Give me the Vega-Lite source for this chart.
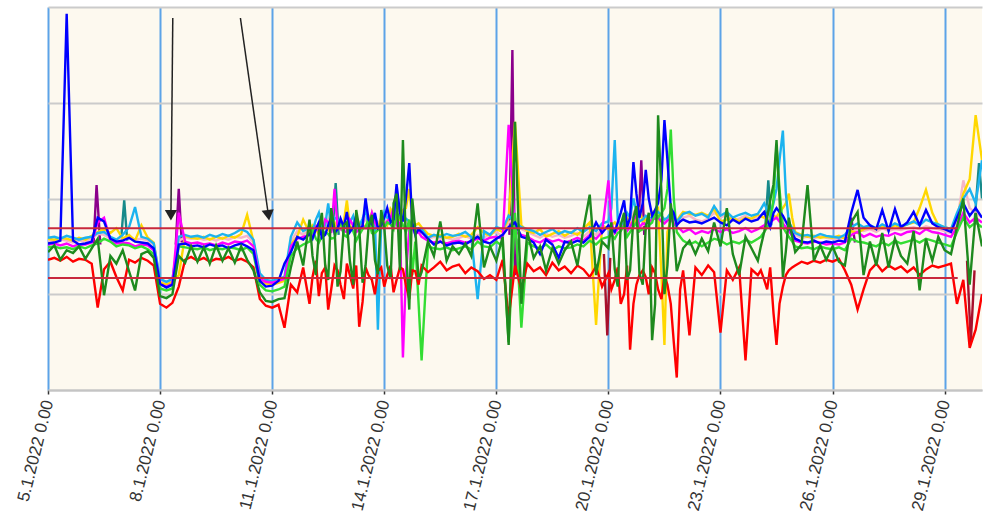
{
  "$schema": "https://vega.github.io/schema/vega-lite/v6.json",
  "autosize": "none",
  "width": 934,
  "height": 383,
  "padding": {"left": 48, "top": 7, "right": 3, "bottom": 128},
  "background": "white",
  "config": {"view": {"fill": "#fdf9ef", "stroke": null}, "font": "Liberation Sans"},
  "layer": [
    {
      "data": {"values": [
        {"d":6.22,"s":"U","g":1,"v":15.3},{"d":6.3,"s":"U","g":1,"v":21.4},{"d":6.4,"s":"U","g":1,"v":15.2},
        {"d":8.42,"s":"U","g":2,"v":15.2},{"d":8.5,"s":"U","g":2,"v":21.0},{"d":8.58,"s":"U","g":2,"v":15.4},
        {"d":17.35,"s":"U","g":3,"v":16.2},{"d":17.43,"s":"U","g":3,"v":35.5},{"d":17.5,"s":"U","g":3,"v":12.0},{"d":17.6,"s":"U","g":3,"v":15.8},
        {"d":20.8,"s":"U","g":4,"v":16.4},{"d":20.88,"s":"U","g":4,"v":24.0},{"d":20.96,"s":"U","g":4,"v":16.2},
        {"d":26.4,"s":"U","g":5,"v":15.5},{"d":26.5,"s":"U","g":5,"v":18.0},{"d":26.6,"s":"U","g":5,"v":15.4},
        {"d":6.95,"s":"T","g":6,"v":15.4},{"d":7.04,"s":"T","g":6,"v":19.8},{"d":7.12,"s":"T","g":6,"v":15.6},
        {"d":12.62,"s":"T","g":7,"v":16.6},{"d":12.7,"s":"T","g":7,"v":21.6},{"d":12.78,"s":"T","g":7,"v":16.2},
        {"d":24.2,"s":"T","g":8,"v":17.0},{"d":24.28,"s":"T","g":8,"v":21.9},{"d":24.36,"s":"T","g":8,"v":17.2},
        {"d":29.8,"s":"T","g":9,"v":17.5},{"d":29.92,"s":"T","g":9,"v":23.7},{"d":30,"s":"T","g":9,"v":20.0},
        {"d":19.88,"s":"K","g":10,"v":14.2},{"d":19.97,"s":"K","g":10,"v":5.7},{"d":20.05,"s":"K","g":10,"v":13.8},
        {"d":29.6,"s":"K","g":11,"v":13.5},{"d":29.7,"s":"K","g":11,"v":5.0},{"d":29.8,"s":"K","g":11,"v":12.5}
      ]},
      "mark": {"type": "line", "strokeWidth": 2.4, "clip": true},
      "encoding": {
        "x": {"field": "d", "type": "quantitative"},
        "y": {"field": "v", "type": "quantitative"},
        "color": {"field": "s", "type": "nominal"},
        "detail": {"field": "g", "type": "nominal"}
      }
    },
    {
      "data": {"values": [
        {"d":5.00,"P":15.6,"G":15.8,"C":15.9,"M":15.2,"L":14.9,"B":15.3,"R":13.6,"D":14.4},
        {"d":5.17,"P":15.5,"G":15.7,"C":16.0,"M":15.3,"L":15.0,"B":15.4,"R":13.8,"D":15.1},
        {"d":5.33,"P":15.7,"G":15.9,"C":15.8,"M":15.1,"L":14.8,"B":15.6,"R":13.5,"D":13.6},
        {"d":5.50,"P":15.6,"G":15.8,"C":16.1,"M":15.3,"L":14.9,"B":39.3,"R":13.9,"D":14.6},
        {"d":5.67,"P":15.4,"G":15.6,"C":15.9,"M":15.0,"L":14.7,"B":15.6,"R":13.4,"D":14.3},
        {"d":5.83,"P":15.6,"G":15.9,"C":15.7,"M":15.2,"L":15.0,"B":15.2,"R":13.7,"D":15.0},
        {"d":6.00,"P":15.5,"G":15.7,"C":15.9,"M":15.2,"L":14.8,"B":15.3,"R":13.6,"D":13.7},
        {"d":6.17,"P":15.8,"G":16.1,"C":16.0,"M":15.4,"L":15.1,"B":15.5,"R":13.2,"D":14.8},
        {"d":6.33,"P":16.3,"G":16.5,"C":16.4,"M":17.5,"L":15.3,"B":18.0,"R":8.6,"D":15.8},
        {"d":6.50,"P":16.2,"G":16.8,"C":16.5,"M":18.0,"L":15.8,"B":17.6,"R":12.6,"D":9.9},
        {"d":6.67,"P":15.8,"G":16.4,"C":16.0,"M":15.6,"L":15.5,"B":15.8,"R":13.4,"D":14.0},
        {"d":6.83,"P":15.6,"G":16.9,"C":15.7,"M":15.3,"L":15.0,"B":15.5,"R":11.8,"D":13.2},
        {"d":7.00,"P":15.9,"G":15.8,"C":16.2,"M":15.4,"L":15.2,"B":15.6,"R":10.4,"D":14.6},
        {"d":7.17,"P":16.0,"G":16.2,"C":17.0,"M":15.3,"L":15.1,"B":15.9,"R":13.6,"D":12.4},
        {"d":7.33,"P":15.7,"G":15.6,"C":19.1,"M":15.0,"L":14.8,"B":15.5,"R":13.3,"D":10.4},
        {"d":7.50,"P":15.8,"G":17.2,"C":16.0,"M":15.2,"L":15.0,"B":15.4,"R":13.8,"D":14.2},
        {"d":7.67,"P":15.6,"G":15.9,"C":15.8,"M":15.1,"L":14.7,"B":15.3,"R":13.5,"D":14.5},
        {"d":7.83,"P":15.2,"G":15.4,"C":15.3,"M":14.6,"L":14.2,"B":14.8,"R":13.0,"D":13.8},
        {"d":8.00,"P":11.4,"G":11.2,"C":11.6,"M":11.0,"L":10.6,"B":11.1,"R":9.0,"D":9.8},
        {"d":8.17,"P":11.2,"G":11.0,"C":11.3,"M":10.8,"L":10.4,"B":10.7,"R":8.6,"D":9.6},
        {"d":8.33,"P":11.5,"G":11.3,"C":11.6,"M":11.1,"L":10.6,"B":11.0,"R":9.1,"D":10.0},
        {"d":8.50,"P":15.6,"G":12.0,"C":16.0,"M":18.5,"L":15.0,"B":15.2,"R":10.8,"D":14.0},
        {"d":8.67,"P":15.9,"G":16.1,"C":16.2,"M":15.5,"L":14.9,"B":15.3,"R":13.6,"D":13.3},
        {"d":8.83,"P":15.8,"G":15.9,"C":16.0,"M":15.3,"L":14.8,"B":15.0,"R":13.9,"D":15.0},
        {"d":9.00,"P":15.9,"G":15.8,"C":16.1,"M":15.4,"L":14.7,"B":15.1,"R":13.5,"D":13.4},
        {"d":9.17,"P":15.7,"G":16.0,"C":15.9,"M":15.2,"L":14.9,"B":14.9,"R":13.8,"D":14.9},
        {"d":9.33,"P":15.8,"G":15.7,"C":16.2,"M":15.3,"L":14.6,"B":15.2,"R":13.4,"D":13.2},
        {"d":9.50,"P":15.6,"G":16.0,"C":16.0,"M":15.1,"L":14.8,"B":15.0,"R":13.7,"D":15.1},
        {"d":9.67,"P":15.9,"G":15.8,"C":16.3,"M":15.4,"L":14.7,"B":15.1,"R":13.6,"D":13.5},
        {"d":9.83,"P":15.7,"G":16.1,"C":16.1,"M":15.2,"L":14.9,"B":14.8,"R":13.9,"D":14.8},
        {"d":10.00,"P":16.0,"G":15.9,"C":16.4,"M":15.5,"L":14.8,"B":15.1,"R":13.5,"D":13.3},
        {"d":10.17,"P":15.9,"G":16.3,"C":16.8,"M":15.4,"L":14.6,"B":15.3,"R":13.7,"D":15.0},
        {"d":10.33,"P":16.1,"G":18.3,"C":16.5,"M":15.6,"L":14.9,"B":15.0,"R":13.4,"D":13.6},
        {"d":10.50,"P":15.4,"G":15.5,"C":15.7,"M":15.0,"L":14.2,"B":14.6,"R":12.8,"D":12.5},
        {"d":10.67,"P":12.0,"G":11.8,"C":12.2,"M":11.6,"L":11.0,"B":11.4,"R":9.5,"D":10.2},
        {"d":10.83,"P":11.4,"G":11.1,"C":11.5,"M":11.3,"L":10.4,"B":10.8,"R":8.8,"D":9.3},
        {"d":11.00,"P":11.3,"G":11.0,"C":11.4,"M":11.2,"L":10.3,"B":10.9,"R":8.6,"D":9.2},
        {"d":11.17,"P":11.5,"G":11.2,"C":11.6,"M":11.4,"L":10.5,"B":11.4,"R":8.9,"D":9.5},
        {"d":11.33,"P":11.7,"G":11.4,"C":11.8,"M":11.6,"L":10.8,"B":13.2,"R":6.5,"D":9.6},
        {"d":11.50,"P":15.5,"G":15.2,"C":16.0,"M":15.0,"L":14.0,"B":14.4,"R":11.0,"D":12.8},
        {"d":11.67,"P":16.6,"G":16.0,"C":17.5,"M":15.8,"L":14.8,"B":16.0,"R":10.2,"D":15.5},
        {"d":11.83,"P":16.2,"G":17.8,"C":16.6,"M":16.0,"L":15.2,"B":15.7,"R":12.8,"D":13.0},
        {"d":12.00,"P":16.8,"G":16.4,"C":17.0,"M":16.2,"L":15.5,"B":16.3,"R":9.0,"D":17.8},
        {"d":12.08,"P":16.4,"G":17.2,"C":16.6,"M":16.0,"L":16.8,"B":15.8,"R":11.8,"D":14.0},
        {"d":12.17,"P":17.2,"G":16.9,"C":17.8,"M":17.0,"L":15.8,"B":16.8,"R":13.5,"D":12.0},
        {"d":12.25,"P":16.8,"G":16.2,"C":18.5,"M":16.6,"L":15.4,"B":17.5,"R":9.8,"D":16.5},
        {"d":12.33,"P":16.5,"G":17.6,"C":16.8,"M":16.3,"L":16.0,"B":15.9,"R":12.2,"D":18.5},
        {"d":12.42,"P":17.0,"G":17.0,"C":17.2,"M":17.8,"L":16.5,"B":16.2,"R":12.8,"D":13.0},
        {"d":12.50,"P":17.8,"G":16.7,"C":19.5,"M":17.5,"L":16.3,"B":17.2,"R":8.4,"D":11.5},
        {"d":12.58,"P":16.6,"G":18.2,"C":17.0,"M":16.4,"L":15.8,"B":18.0,"R":10.5,"D":19.0},
        {"d":12.67,"P":16.9,"G":17.5,"C":18.0,"M":21.0,"L":15.9,"B":16.4,"R":13.0,"D":16.8},
        {"d":12.75,"P":17.4,"G":16.9,"C":17.8,"M":17.0,"L":16.9,"B":16.8,"R":12.5,"D":10.8},
        {"d":12.83,"P":17.5,"G":16.8,"C":17.3,"M":16.8,"L":17.5,"B":17.9,"R":11.0,"D":12.4},
        {"d":12.92,"P":17.0,"G":17.6,"C":17.0,"M":16.6,"L":16.2,"B":17.0,"R":9.5,"D":17.2},
        {"d":13.00,"P":16.8,"G":19.8,"C":17.0,"M":16.5,"L":16.0,"B":18.6,"R":13.2,"D":17.5},
        {"d":13.08,"P":17.2,"G":17.0,"C":17.5,"M":17.8,"L":17.0,"B":16.5,"R":12.0,"D":13.5},
        {"d":13.17,"P":17.3,"G":17.0,"C":18.2,"M":17.2,"L":16.6,"B":17.0,"R":10.6,"D":11.0},
        {"d":13.25,"P":16.9,"G":18.0,"C":16.8,"M":16.5,"L":15.6,"B":18.2,"R":13.0,"D":18.8},
        {"d":13.33,"P":16.6,"G":17.4,"C":17.1,"M":16.7,"L":16.2,"B":16.8,"R":6.6,"D":16.9},
        {"d":13.42,"P":17.4,"G":17.2,"C":17.9,"M":17.2,"L":16.8,"B":17.1,"R":9.2,"D":11.2},
        {"d":13.50,"P":17.9,"G":17.1,"C":18.8,"M":16.9,"L":17.0,"B":20.0,"R":12.8,"D":13.0},
        {"d":13.58,"P":17.1,"G":17.8,"C":17.2,"M":16.9,"L":17.8,"B":17.8,"R":12.0,"D":17.0},
        {"d":13.67,"P":17.0,"G":18.5,"C":17.4,"M":18.5,"L":16.4,"B":17.3,"R":11.5,"D":18.3},
        {"d":13.75,"P":17.6,"G":17.3,"C":18.0,"M":17.5,"L":16.4,"B":18.5,"R":10.0,"D":13.6},
        {"d":13.83,"P":17.6,"G":16.9,"C":6.3,"M":16.8,"L":16.7,"B":16.9,"R":12.4,"D":12.1},
        {"d":13.92,"P":17.3,"G":18.0,"C":17.6,"M":17.0,"L":17.0,"B":17.2,"R":12.8,"D":18.8},
        {"d":14.00,"P":17.2,"G":17.5,"C":18.6,"M":17.3,"L":16.9,"B":18.0,"R":10.8,"D":17.0},
        {"d":14.08,"P":17.8,"G":17.2,"C":18.0,"M":17.6,"L":17.5,"B":19.0,"R":12.0,"D":13.0},
        {"d":14.17,"P":18.0,"G":18.9,"C":17.9,"M":18.0,"L":17.3,"B":17.5,"R":13.0,"D":11.6},
        {"d":14.25,"P":17.5,"G":18.4,"C":17.6,"M":19.0,"L":16.8,"B":17.8,"R":10.2,"D":19.5},
        {"d":14.33,"P":17.4,"G":17.6,"C":20.5,"M":17.2,"L":18.5,"B":21.5,"R":11.5,"D":20.5},
        {"d":14.42,"P":18.2,"G":17.8,"C":18.6,"M":17.5,"L":18.0,"B":18.5,"R":12.8,"D":12.5},
        {"d":14.50,"P":17.9,"G":18.8,"C":18.0,"M":3.4,"L":17.2,"B":17.6,"R":12.6,"D":26.1},
        {"d":14.58,"P":17.6,"G":19.0,"C":17.9,"M":12.0,"L":16.5,"B":20.0,"R":11.0,"D":15.0},
        {"d":14.67,"P":17.2,"G":21.0,"C":17.6,"M":16.8,"L":17.8,"B":23.7,"R":9.5,"D":8.4},
        {"d":14.75,"P":17.0,"G":18.0,"C":17.2,"M":17.0,"L":12.0,"B":17.5,"R":12.5,"D":20.0},
        {"d":14.83,"P":16.6,"G":17.2,"C":16.9,"M":16.3,"L":15.5,"B":16.2,"R":12.4,"D":16.8},
        {"d":14.92,"P":16.8,"G":17.4,"C":16.9,"M":16.5,"L":9.0,"B":16.8,"R":11.0,"D":11.5},
        {"d":15.00,"P":16.4,"G":17.0,"C":16.8,"M":16.0,"L":3.1,"B":16.5,"R":13.0,"D":12.3},
        {"d":15.17,"P":15.8,"G":16.3,"C":15.9,"M":15.6,"L":15.0,"B":15.8,"R":12.3,"D":15.5},
        {"d":15.33,"P":16.0,"G":16.1,"C":16.2,"M":15.4,"L":14.8,"B":15.2,"R":12.8,"D":14.0},
        {"d":15.50,"P":15.8,"G":16.2,"C":16.0,"M":15.5,"L":14.7,"B":15.5,"R":13.4,"D":17.6},
        {"d":15.67,"P":15.9,"G":15.9,"C":16.3,"M":15.3,"L":14.9,"B":15.1,"R":12.5,"D":13.5},
        {"d":15.83,"P":15.7,"G":16.0,"C":16.1,"M":15.5,"L":14.6,"B":15.3,"R":12.9,"D":15.0},
        {"d":16.00,"P":15.9,"G":16.3,"C":16.2,"M":15.6,"L":14.8,"B":15.4,"R":13.1,"D":14.2},
        {"d":16.17,"P":16.1,"G":16.0,"C":16.5,"M":15.4,"L":15.0,"B":15.2,"R":12.2,"D":15.3},
        {"d":16.33,"P":15.8,"G":16.2,"C":16.0,"M":15.5,"L":14.7,"B":15.6,"R":12.8,"D":14.0},
        {"d":16.50,"P":16.2,"G":17.0,"C":9.5,"M":15.8,"L":15.5,"B":16.0,"R":12.4,"D":19.5},
        {"d":16.67,"P":15.9,"G":16.4,"C":16.6,"M":15.6,"L":15.0,"B":15.5,"R":11.6,"D":12.8},
        {"d":16.83,"P":16.3,"G":16.1,"C":16.2,"M":15.9,"L":14.9,"B":15.3,"R":12.0,"D":15.0},
        {"d":17.00,"P":16.5,"G":16.8,"C":17.0,"M":16.0,"L":15.5,"B":15.8,"R":11.5,"D":13.5},
        {"d":17.17,"P":16.0,"G":16.5,"C":16.8,"M":15.8,"L":15.0,"B":16.2,"R":13.6,"D":16.0},
        {"d":17.33,"P":17.5,"G":18.0,"C":18.2,"M":27.7,"L":5.0,"B":17.0,"R":7.5,"D":4.7},
        {"d":17.50,"P":18.0,"G":28.0,"C":17.5,"M":16.5,"L":18.5,"B":17.5,"R":13.0,"D":28.0},
        {"d":17.67,"P":16.8,"G":17.2,"C":17.0,"M":16.2,"L":6.5,"B":16.0,"R":10.5,"D":9.0},
        {"d":17.83,"P":16.5,"G":16.6,"C":16.8,"M":16.0,"L":15.4,"B":15.8,"R":13.2,"D":16.5},
        {"d":18.00,"P":16.2,"G":16.4,"C":16.6,"M":15.6,"L":15.0,"B":15.4,"R":12.4,"D":13.8},
        {"d":18.17,"P":15.9,"G":16.8,"C":16.2,"M":15.4,"L":14.8,"B":14.2,"R":12.8,"D":15.0},
        {"d":18.33,"P":16.3,"G":16.0,"C":16.5,"M":15.8,"L":15.2,"B":15.7,"R":12.0,"D":12.5},
        {"d":18.50,"P":16.0,"G":16.3,"C":16.8,"M":15.5,"L":14.6,"B":15.2,"R":13.3,"D":14.8},
        {"d":18.67,"P":16.2,"G":16.6,"C":16.3,"M":15.7,"L":15.0,"B":13.8,"R":12.5,"D":13.2},
        {"d":18.83,"P":15.9,"G":16.1,"C":16.6,"M":15.4,"L":14.8,"B":15.5,"R":12.9,"D":14.6},
        {"d":19.00,"P":16.1,"G":16.5,"C":16.4,"M":15.6,"L":14.9,"B":15.3,"R":12.2,"D":15.5},
        {"d":19.17,"P":16.4,"G":16.2,"C":16.9,"M":15.9,"L":15.2,"B":15.6,"R":13.0,"D":13.0},
        {"d":19.33,"P":16.0,"G":16.8,"C":16.5,"M":15.6,"L":15.0,"B":15.4,"R":12.6,"D":16.8},
        {"d":19.50,"P":16.6,"G":17.5,"C":17.0,"M":16.2,"L":15.6,"B":16.0,"R":11.8,"D":20.4},
        {"d":19.67,"P":16.2,"G":6.8,"C":16.6,"M":15.8,"L":15.2,"B":17.5,"R":12.9,"D":12.0},
        {"d":19.83,"P":16.8,"G":17.2,"C":17.4,"M":16.5,"L":15.8,"B":16.4,"R":10.8,"D":15.5},
        {"d":20.00,"P":17.0,"G":16.8,"C":17.6,"M":21.9,"L":16.0,"B":17.2,"R":12.2,"D":14.8},
        {"d":20.08,"P":16.8,"G":17.2,"C":19.0,"M":17.5,"L":16.2,"B":16.8,"R":10.5,"D":17.5},
        {"d":20.17,"P":16.6,"G":17.5,"C":26.1,"M":16.4,"L":15.8,"B":16.5,"R":11.5,"D":12.6},
        {"d":20.25,"P":17.2,"G":17.0,"C":17.8,"M":16.8,"L":16.4,"B":17.5,"R":12.8,"D":10.8},
        {"d":20.33,"P":17.4,"G":16.9,"C":17.2,"M":17.0,"L":16.6,"B":18.5,"R":9.0,"D":17.2},
        {"d":20.42,"P":17.0,"G":17.6,"C":17.5,"M":17.2,"L":17.2,"B":19.8,"R":10.0,"D":18.5},
        {"d":20.50,"P":16.8,"G":18.0,"C":18.5,"M":16.6,"L":16.0,"B":17.0,"R":13.0,"D":11.5},
        {"d":20.58,"P":17.6,"G":17.4,"C":18.0,"M":17.0,"L":16.5,"B":18.0,"R":4.2,"D":12.5},
        {"d":20.67,"P":18.5,"G":17.2,"C":20.0,"M":17.8,"L":17.0,"B":23.8,"R":9.0,"D":18.0},
        {"d":20.75,"P":17.8,"G":18.0,"C":18.6,"M":18.2,"L":17.5,"B":20.5,"R":11.0,"D":19.2},
        {"d":20.83,"P":17.0,"G":18.8,"C":17.6,"M":17.0,"L":16.6,"B":18.0,"R":12.0,"D":12.2},
        {"d":20.92,"P":17.2,"G":17.5,"C":17.8,"M":17.4,"L":16.8,"B":19.5,"R":12.5,"D":11.0},
        {"d":21.00,"P":17.4,"G":17.8,"C":18.2,"M":17.3,"L":16.8,"B":23.0,"R":11.8,"D":17.0},
        {"d":21.08,"P":17.6,"G":18.2,"C":18.0,"M":17.6,"L":17.2,"B":20.0,"R":10.0,"D":18.5},
        {"d":21.17,"P":17.8,"G":18.5,"C":18.0,"M":17.8,"L":17.5,"B":18.2,"R":12.8,"D":5.2},
        {"d":21.25,"P":18.0,"G":18.8,"C":18.4,"M":17.9,"L":18.5,"B":18.8,"R":12.2,"D":9.0},
        {"d":21.33,"P":18.2,"G":19.0,"C":18.6,"M":18.0,"L":18.0,"B":19.5,"R":10.5,"D":28.7},
        {"d":21.42,"P":17.9,"G":12.0,"C":18.2,"M":17.6,"L":18.5,"B":22.0,"R":9.5,"D":20.5},
        {"d":21.50,"P":17.6,"G":4.7,"C":17.8,"M":17.4,"L":19.0,"B":28.2,"R":12.0,"D":10.0},
        {"d":21.58,"P":17.8,"G":16.5,"C":18.0,"M":17.7,"L":21.0,"B":24.0,"R":11.0,"D":13.0},
        {"d":21.67,"P":18.0,"G":17.8,"C":18.5,"M":17.9,"L":27.2,"B":19.0,"R":9.0,"D":19.5},
        {"d":21.75,"P":17.5,"G":17.9,"C":18.0,"M":17.4,"L":20.0,"B":18.5,"R":5.0,"D":16.5},
        {"d":21.83,"P":17.3,"G":17.6,"C":17.6,"M":17.0,"L":16.5,"B":17.2,"R":1.3,"D":12.4},
        {"d":21.92,"P":17.6,"G":18.2,"C":18.0,"M":16.8,"L":16.0,"B":17.6,"R":10.5,"D":13.6},
        {"d":22.00,"P":18.0,"G":18.6,"C":18.4,"M":16.5,"L":15.6,"B":17.8,"R":12.5,"D":14.8},
        {"d":22.17,"P":18.2,"G":18.4,"C":18.6,"M":16.8,"L":15.2,"B":17.5,"R":5.7,"D":15.6},
        {"d":22.33,"P":17.8,"G":18.3,"C":18.2,"M":16.3,"L":15.5,"B":17.6,"R":12.8,"D":14.2},
        {"d":22.50,"P":17.6,"G":18.5,"C":18.4,"M":16.6,"L":15.0,"B":17.4,"R":12.0,"D":15.8},
        {"d":22.67,"P":17.9,"G":18.2,"C":18.0,"M":16.4,"L":15.4,"B":17.7,"R":13.0,"D":14.5},
        {"d":22.83,"P":18.5,"G":18.9,"C":19.2,"M":16.8,"L":15.8,"B":18.0,"R":12.3,"D":17.5},
        {"d":23.00,"P":18.0,"G":17.6,"C":18.2,"M":16.5,"L":15.6,"B":17.5,"R":6.0,"D":15.0},
        {"d":23.17,"P":18.3,"G":17.8,"C":18.6,"M":16.8,"L":15.2,"B":17.2,"R":12.5,"D":19.0},
        {"d":23.33,"P":17.7,"G":18.0,"C":18.0,"M":16.4,"L":15.5,"B":17.8,"R":11.5,"D":14.2},
        {"d":23.50,"P":17.9,"G":17.6,"C":18.3,"M":16.6,"L":15.3,"B":17.4,"R":12.8,"D":12.0},
        {"d":23.67,"P":18.2,"G":18.0,"C":18.5,"M":16.9,"L":15.7,"B":17.9,"R":3.1,"D":16.0},
        {"d":23.83,"P":17.8,"G":17.9,"C":18.2,"M":16.5,"L":15.4,"B":17.6,"R":12.6,"D":14.8},
        {"d":24.00,"P":18.0,"G":18.3,"C":18.4,"M":16.8,"L":15.8,"B":17.8,"R":12.0,"D":13.5},
        {"d":24.08,"P":18.2,"G":18.1,"C":18.9,"M":17.0,"L":16.0,"B":18.2,"R":12.5,"D":15.0},
        {"d":24.17,"P":18.4,"G":18.0,"C":19.5,"M":17.2,"L":16.5,"B":18.6,"R":11.5,"D":16.5},
        {"d":24.25,"P":18.0,"G":18.3,"C":18.8,"M":17.4,"L":17.0,"B":17.8,"R":10.5,"D":18.0},
        {"d":24.33,"P":17.8,"G":18.5,"C":18.2,"M":17.5,"L":17.5,"B":17.0,"R":12.8,"D":19.8},
        {"d":24.42,"P":18.1,"G":18.2,"C":19.5,"M":17.8,"L":20.0,"B":18.5,"R":8.0,"D":21.5},
        {"d":24.50,"P":18.2,"G":18.0,"C":21.0,"M":18.0,"L":25.5,"B":19.0,"R":4.7,"D":26.1},
        {"d":24.58,"P":18.0,"G":18.6,"C":24.0,"M":17.6,"L":21.0,"B":18.6,"R":9.0,"D":20.0},
        {"d":24.67,"P":17.9,"G":19.0,"C":27.1,"M":17.4,"L":17.0,"B":18.2,"R":10.8,"D":11.8},
        {"d":24.75,"P":17.5,"G":19.5,"C":20.5,"M":17.0,"L":16.5,"B":17.6,"R":12.0,"D":14.5},
        {"d":24.83,"P":17.0,"G":20.5,"C":17.5,"M":16.6,"L":16.0,"B":17.0,"R":12.5,"D":18.0},
        {"d":24.92,"P":16.6,"G":18.0,"C":16.9,"M":16.1,"L":15.5,"B":16.4,"R":12.8,"D":16.0},
        {"d":25.00,"P":16.2,"G":16.5,"C":16.4,"M":15.6,"L":15.0,"B":15.8,"R":13.0,"D":14.4},
        {"d":25.17,"P":15.9,"G":16.2,"C":16.1,"M":15.4,"L":14.8,"B":15.5,"R":13.4,"D":15.2},
        {"d":25.33,"P":16.0,"G":16.0,"C":16.2,"M":15.3,"L":14.9,"B":15.4,"R":13.2,"D":21.4},
        {"d":25.50,"P":15.8,"G":16.1,"C":16.0,"M":15.5,"L":14.7,"B":15.6,"R":13.5,"D":13.5},
        {"d":25.67,"P":16.1,"G":15.9,"C":16.3,"M":15.4,"L":15.0,"B":15.3,"R":13.3,"D":15.1},
        {"d":25.83,"P":15.9,"G":16.0,"C":16.1,"M":15.2,"L":14.8,"B":15.5,"R":13.6,"D":13.6},
        {"d":26.00,"P":15.8,"G":15.9,"C":16.0,"M":15.3,"L":14.7,"B":15.4,"R":13.4,"D":15.0},
        {"d":26.17,"P":15.7,"G":16.1,"C":15.9,"M":15.2,"L":14.9,"B":15.6,"R":13.7,"D":13.4},
        {"d":26.33,"P":16.0,"G":15.8,"C":16.2,"M":15.4,"L":14.6,"B":15.5,"R":12.5,"D":13.0},
        {"d":26.50,"P":16.5,"G":16.6,"C":17.0,"M":16.2,"L":15.8,"B":18.5,"R":11.0,"D":17.5},
        {"d":26.67,"P":16.8,"G":16.4,"C":17.4,"M":16.5,"L":15.5,"B":20.9,"R":8.4,"D":18.6},
        {"d":26.83,"P":16.6,"G":16.8,"C":17.0,"M":16.0,"L":15.4,"B":18.0,"R":10.5,"D":12.0},
        {"d":27.00,"P":16.8,"G":17.0,"C":17.2,"M":16.3,"L":15.2,"B":17.2,"R":12.5,"D":15.5},
        {"d":27.17,"P":16.5,"G":16.8,"C":16.9,"M":16.0,"L":15.0,"B":16.8,"R":13.2,"D":13.0},
        {"d":27.33,"P":16.9,"G":17.1,"C":17.3,"M":16.2,"L":15.4,"B":18.8,"R":12.4,"D":16.4},
        {"d":27.50,"P":16.6,"G":16.9,"C":17.0,"M":16.1,"L":15.1,"B":16.6,"R":13.0,"D":12.8},
        {"d":27.67,"P":16.8,"G":17.2,"C":17.4,"M":16.4,"L":15.6,"B":18.9,"R":12.6,"D":15.8},
        {"d":27.83,"P":16.7,"G":17.0,"C":17.1,"M":16.2,"L":15.3,"B":17.0,"R":12.9,"D":14.0},
        {"d":28.00,"P":16.9,"G":17.3,"C":17.3,"M":16.5,"L":15.5,"B":17.5,"R":12.3,"D":13.2},
        {"d":28.17,"P":17.0,"G":17.5,"C":17.6,"M":16.6,"L":15.7,"B":18.6,"R":12.8,"D":16.6},
        {"d":28.33,"P":16.8,"G":19.0,"C":17.2,"M":16.3,"L":15.4,"B":17.2,"R":12.0,"D":10.4},
        {"d":28.50,"P":17.1,"G":20.9,"C":17.8,"M":16.8,"L":15.8,"B":18.8,"R":12.6,"D":15.8},
        {"d":28.67,"P":16.9,"G":18.5,"C":17.5,"M":16.5,"L":15.6,"B":17.4,"R":13.0,"D":13.5},
        {"d":28.83,"P":16.8,"G":17.2,"C":17.3,"M":16.4,"L":15.4,"B":17.0,"R":12.8,"D":16.0},
        {"d":29.00,"P":16.6,"G":17.0,"C":17.0,"M":16.2,"L":15.2,"B":16.8,"R":13.0,"D":14.6},
        {"d":29.17,"P":16.4,"G":16.8,"C":16.8,"M":16.0,"L":15.0,"B":16.5,"R":13.2,"D":14.2},
        {"d":29.33,"P":17.5,"G":18.0,"C":18.5,"M":17.0,"L":16.5,"B":18.0,"R":9.0,"D":17.0},
        {"d":29.50,"P":21.9,"G":20.5,"C":20.0,"M":18.5,"L":18.0,"B":19.5,"R":11.5,"D":20.0},
        {"d":29.67,"P":19.0,"G":22.0,"C":21.0,"M":17.5,"L":17.0,"B":18.2,"R":4.4,"D":11.0},
        {"d":29.83,"P":18.5,"G":28.7,"C":19.5,"M":18.0,"L":17.5,"B":19.0,"R":6.3,"D":18.5},
        {"d":30.00,"P":18.0,"G":24.0,"C":24.0,"M":17.5,"L":17.0,"B":18.0,"R":10.0,"D":15.0}
      ]},
      "transform": [
        {"fold": ["P","G","C","M","L","B","R","D"], "as": ["s","v"]},
        {"filter": "isValid(datum.v)"}
      ],
      "mark": {"type": "line", "strokeWidth": 2.4, "clip": true},
      "encoding": {
        "x": {"field": "d", "type": "quantitative",
          "scale": {"domain": [5, 30], "nice": false, "zero": false},
          "axis": {"values": [5,8,11,14,17,20,23,26,29], "labelExpr": "datum.value + '.1.2022 0.00'",
            "title": null, "grid": true, "gridColor": "#5ca3e8", "gridWidth": 2, "gridOpacity": 1,
            "tickColor": "#333333", "tickSize": 4, "tickWidth": 1.5,
            "domainColor": "#c4c4c4", "domainWidth": 2,
            "labelAngle": -76, "labelAlign": "right", "labelBaseline": "middle",
            "labelFont": "Liberation Sans", "labelFontSize": 17, "labelColor": "#333333",
            "labelPadding": 6, "labelOverlap": false, "labelFlush": false, "labelBound": false}},
        "y": {"field": "v", "type": "quantitative",
          "scale": {"domain": [0, 40], "nice": false, "zero": false},
          "axis": {"values": [0,10,20,30,40], "title": null, "labels": false, "ticks": false, "domain": false,
            "grid": true, "gridColor": "#cbcbcb", "gridWidth": 2, "gridOpacity": 1}},
        "color": {"field": "s", "type": "nominal", "legend": null,
          "scale": {"domain": ["U","T","K","P","G","C","M","L","B","R","D"],
            "range": ["#8b008b","#178a8a","#a8102c","#f6b6c8","#ffd700","#1cb3ef","#ff00ff","#33dd33","#0000ff","#ff0000","#1e8a1e"]}}
      }
    },
    {
      "data": {"values": [{"a": 5, "b": 29.35, "v": 16.9}, {"a": 5, "b": 29.35, "v": 11.7}]},
      "mark": {"type": "rule", "color": "#c8283c", "strokeWidth": 2},
      "encoding": {
        "x": {"field": "a", "type": "quantitative"},
        "x2": {"field": "b"},
        "y": {"field": "v", "type": "quantitative"}
      }
    },
    {
      "data": {"values": [{"a": 8.34, "top": 38.85, "b": 8.29, "bot": 18.25}, {"a": 10.15, "top": 38.85, "b": 10.9, "bot": 18.25}]},
      "mark": {"type": "rule", "color": "#222222", "strokeWidth": 1.5},
      "encoding": {
        "x": {"field": "a", "type": "quantitative"},
        "x2": {"field": "b"},
        "y": {"field": "top", "type": "quantitative"},
        "y2": {"field": "bot"}
      }
    },
    {
      "data": {"values": [{"x": 8.29, "y": 18.25, "ang": 0}, {"x": 10.9, "y": 18.25, "ang": -8}]},
      "mark": {"type": "point", "shape": "triangle-down", "filled": true, "color": "#222222", "size": 150, "opacity": 1},
      "encoding": {
        "x": {"field": "x", "type": "quantitative"},
        "y": {"field": "y", "type": "quantitative"},
        "angle": {"field": "ang", "type": "quantitative", "scale": null}
      }
    }
  ]
}
